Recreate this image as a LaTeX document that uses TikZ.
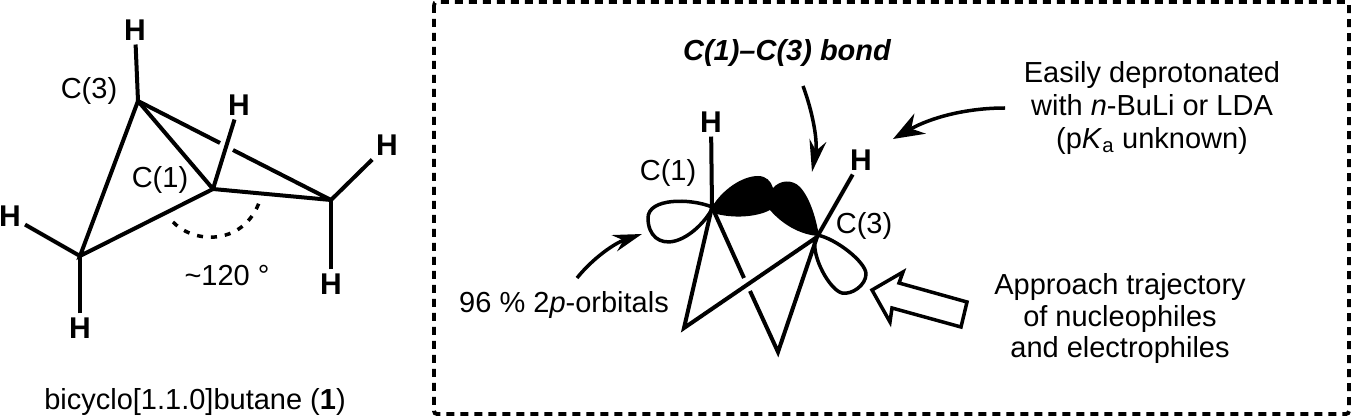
\documentclass[tikz,border=0pt]{standalone}
\usepackage{amsmath}
\usepackage{fontspec}
\setmainfont{Liberation Sans}
\usetikzlibrary{arrows.meta}
\tikzset{
	bond/.style={line width=4pt, line join=miter},
	lobe/.style={line width=3.5pt, line join=round},
	atomH/.style={font=\fontsize{30}{32}\selectfont\bfseries, inner sep=4pt},
	txt/.style={font=\fontsize{29}{33}\selectfont, inner sep=0pt, align=center},
	curly/.style={line width=3.5pt, -{Stealth[length=31pt, width=23pt]}},
}
\begin{document}
\begin{tikzpicture}[x=1pt, y=-1pt]
		\useasboundingbox (0, 0) rectangle (1352, 419);
		\draw[line width=3.9pt, dash pattern=on 8pt off 6pt, rounded corners=3pt] (434, 2) rectangle (1349, 414);

		\coordinate (ctop) at (138, 101);
		\coordinate (cmid) at (213, 189);
		\coordinate (cright) at (331, 200);
		\coordinate (cleft) at (80, 256);
		\coordinate (gapA) at (220, 143);
		\coordinate (gapB) at (233, 150);
		\coordinate (arcA) at (173, 222);
		\coordinate (arcB) at (260, 200);
		\node[atomH] (htop) at (135, 30) {H};
		\node[atomH] (hmid) at (239, 105) {H};
		\node[atomH] (hright) at (387, 145) {H};
		\node[atomH] (hlow) at (331, 284) {H};
		\node[atomH] (hbot) at (80, 328) {H};
		\node[atomH] (hleft) at (10, 216) {H};
		\draw[bond] (ctop) to (cleft) to (cmid) to (ctop);
		\draw[bond] (cmid) to (cright);
		\draw[bond] (ctop) to (gapA);
		\draw[bond] (gapB) to (cright);
		\draw[bond] (htop) to (ctop);
		\draw[bond] (hmid) to (cmid);
		\draw[bond] (hright) to (cright);
		\draw[bond] (hlow) to (cright);
		\draw[bond] (hbot) to (cleft);
		\draw[bond] (hleft) to (cleft);
		\draw[line width=3.5pt, dash pattern=on 6pt off 8pt] (arcA) .. controls (195, 245) and (245, 245) .. (arcB);
		\node[txt] (lblCthree) at (89, 91) {C(3)};
		\node[txt] (lblCone) at (160, 180) {C(1)};
		\node[txt] (lblangle) at (227, 276) {\textasciitilde120 °};
		\node[txt] (caption) at (195, 402) {bicyclo[1.1.0]butane (\textbf{1})};

		\coordinate (pone) at (712, 207);
		\coordinate (pthree) at (817, 237);
		\coordinate (pleft) at (684, 328);
		\coordinate (pbot) at (778, 352);
		\coordinate (gapC) at (744, 278);
		\coordinate (gapD) at (750, 291);
		\node[atomH] (hone) at (711, 122) {H};
		\node[atomH] (hthree) at (861, 160) {H};
		\draw[bond] (hone) to (pone);
		\draw[bond] (hthree) to (pthree);
		\draw[bond] (pone) to (pleft) to (pthree) to (pbot) to (gapD);
		\draw[bond] (gapC) to (pone);
		\draw[lobe] (pone) .. controls (690, 198) and (648, 198) .. (648, 218) .. controls (648, 236) and (660, 245) .. (675, 241) .. controls (690, 237) and (705, 222) .. (712, 209);
		\draw[lobe] (817, 235) .. controls (835, 238) and (866, 262) .. (866, 274) .. controls (866, 285) and (852, 295) .. (842, 293) .. controls (830, 290) and (812, 258) .. (815, 240);
		\fill (pone) .. controls (722, 190) and (742, 176) .. (758, 176) .. controls (766, 176) and (771, 181) .. (773, 188) .. controls (780, 180) and (792, 179) .. (800, 187) .. controls (810, 198) and (816, 218) .. (819, 236) .. controls (800, 235) and (782, 224) .. (770, 210) .. controls (757, 217) and (733, 219) .. (713, 213) -- cycle;
		\node[txt] (lblbond) at (787, 53) {\bfseries\itshape C(1)--C(3) bond};
		\node[txt] (lblpone) at (668, 173) {C(1)};
		\node[txt] (lblpthree) at (864, 226) {C(3)};
		\node[txt] (lbleasy) at (1152, 108) {Easily deprotonated\\with \textit{n}-BuLi or LDA\\(p\textit{K}\textsubscript{a} unknown)};
		\node[txt] (lblorb) at (564, 305) {96 \% 2\textit{p}-orbitals};
		\node[txt, font=\fontsize{29}{31.5}\selectfont] (lblapproach) at (1120, 319) {Approach trajectory\\of nucleophiles\\and electrophiles};

		\coordinate (arrbondA) at (803, 86);
		\coordinate (arrbondB) at (812, 172);
		\coordinate (arreasyA) at (1005, 108);
		\coordinate (arreasyB) at (893, 139);
		\coordinate (arrorbA) at (577, 278);
		\coordinate (arrorbB) at (642, 234);
		\draw[curly, -{Stealth[length=32pt, width=17pt]}] (arrbondA) .. controls (812, 110) and (818, 140) .. (arrbondB);
		\draw[curly] (arreasyA) .. controls (965, 108) and (930, 118) .. (arreasyB);
		\draw[curly, -{Stealth[length=29pt, width=17pt]}] (arrorbA) .. controls (593, 258) and (615, 243) .. (arrorbB);
		\draw[line width=3.5pt, line join=miter] (872, 290) to (903, 272) to (899, 283) to (967, 302) to (961, 327) to (892, 308) to (890, 322) to cycle;
	\end{tikzpicture}
\end{document}
